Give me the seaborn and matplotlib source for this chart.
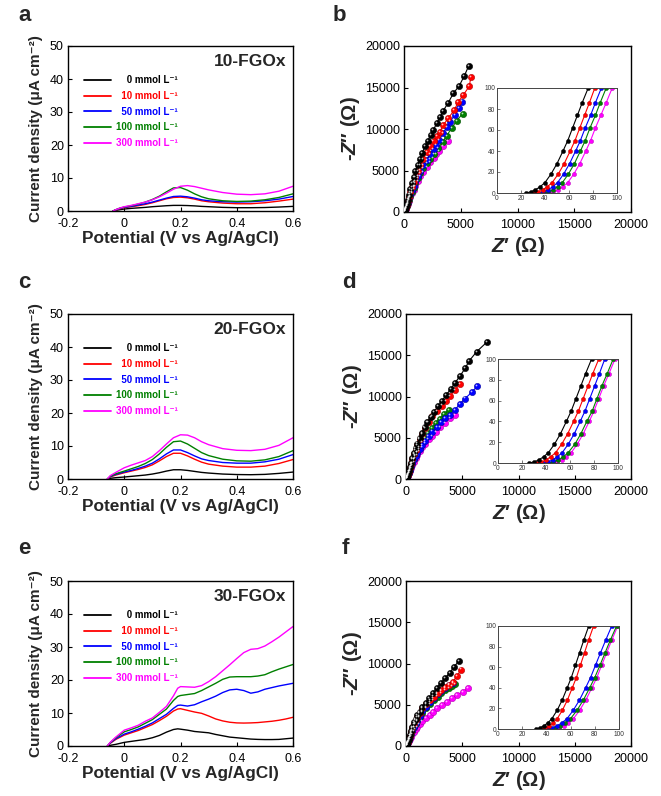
import numpy as np
import pandas as pd
import matplotlib
matplotlib.use('Agg')
import matplotlib.pyplot as plt
import seaborn as sns
from matplotlib.transforms import offset_copy

sns.set_style('ticks')
plt.rcParams['font.family'] = ['Liberation Sans', 'DejaVu Sans']
plt.rcParams['mathtext.fontset'] = 'custom'
plt.rcParams['mathtext.rm'] = 'Liberation Sans'
plt.rcParams['mathtext.it'] = 'Liberation Sans:italic'
plt.rcParams['mathtext.bf'] = 'Liberation Sans:bold'
try:
    plt.rcParams['mathtext.bfit'] = 'Liberation Sans:italic:bold'
except KeyError:
    pass

# ---------------- labels / colours ----------------
FS = '\u2007'
CONC_LABELS = [FS + FS + '0 mmol L⁻¹', FS + '10 mmol L⁻¹', FS + '50 mmol L⁻¹',
               '100 mmol L⁻¹', '300 mmol L⁻¹']
COLORS = ['#000000', '#ff0000', '#0000ff', '#008000', '#ff00ff']
EDGES = ['#000000', '#b00000', '#0000a0', '#005000', '#b000b0']
SAMPLES = ['10-FGOx', '20-FGOx', '30-FGOx']
LSV_XTICKS = [-0.2, 0, 0.2, 0.4, 0.6]
LSV_XTICKLABELS = ['-0.2', '0', '0.2', '0.4', '0.6']
LSV_YTICKS = [0, 10, 20, 30, 40, 50]
NYQ_TICKS = [0, 5000, 10000, 15000, 20000]
INSET_TICKS = [0, 20, 40, 60, 80, 100]

# ---------------- LSV data (panels a, c, e) ----------------
pot_a = [-0.04, -0.03, -0.015, 0, 0.025, 0.05, 0.075, 0.1, 0.125, 0.15, 0.175, 0.2, 0.225,
         0.25, 0.275, 0.3, 0.35, 0.4, 0.45, 0.5, 0.55, 0.6]
j_a_0 = [0, 0.2, 0.4, 0.6, 0.8, 0.95, 1.1, 1.3, 1.45, 1.6, 1.7, 1.7, 1.65, 1.55, 1.4, 1.3, 1.1, 1.0, 1.0, 1.05, 1.2, 1.4]
j_a_10 = [0, 0.3, 0.7, 1.0, 1.3, 1.6, 2.0, 2.5, 3.1, 3.7, 4.1, 4.2, 4.0, 3.6, 3.1, 2.8, 2.4, 2.2, 2.2, 2.5, 3.0, 3.6]
j_a_50 = [0, 0.35, 0.8, 1.1, 1.4, 1.8, 2.2, 2.7, 3.3, 3.9, 4.4, 4.5, 4.3, 3.9, 3.4, 3.1, 2.8, 2.7, 2.8, 3.1, 3.6, 4.4]
j_a_100 = [0, 0.4, 0.9, 1.2, 1.6, 2.1, 2.7, 3.5, 4.5, 5.8, 7.0, 7.1, 6.3, 5.2, 4.3, 3.7, 3.1, 2.9, 3.0, 3.4, 4.1, 5.2]
j_a_300 = [0, 0.4, 0.9, 1.3, 1.7, 2.2, 2.7, 3.4, 4.3, 5.4, 6.6, 7.5, 7.7, 7.4, 6.9, 6.4, 5.6, 5.1, 4.95, 5.2, 6.0, 7.5]

pot_c = [-0.06, -0.05, -0.03, 0, 0.025, 0.05, 0.075, 0.1, 0.125, 0.15, 0.175, 0.2, 0.225,
         0.25, 0.275, 0.3, 0.35, 0.4, 0.45, 0.5, 0.55, 0.6]
j_c_0 = [0, 0.2, 0.4, 0.6, 0.8, 1.0, 1.2, 1.5, 1.9, 2.4, 2.8, 2.8, 2.6, 2.3, 2.0, 1.8, 1.5, 1.35, 1.3, 1.4, 1.7, 2.1]
j_c_10 = [0, 0.6, 1.2, 1.9, 2.4, 2.9, 3.5, 4.3, 5.5, 6.8, 7.8, 7.8, 7.0, 6.0, 5.1, 4.5, 3.9, 3.6, 3.6, 3.9, 4.7, 5.9]
j_c_50 = [0, 0.7, 1.4, 2.1, 2.6, 3.2, 3.9, 4.8, 6.1, 7.6, 8.8, 8.8, 8.0, 7.0, 6.1, 5.6, 5.0, 4.8, 4.8, 5.2, 6.0, 7.4]
j_c_100 = [0, 0.8, 1.6, 2.4, 3.1, 3.8, 4.7, 5.9, 7.6, 9.6, 11.3, 11.5, 10.6, 9.3, 8.0, 7.1, 6.0, 5.5, 5.4, 5.8, 6.8, 8.6]
j_c_300 = [0, 1.0, 2.0, 3.4, 4.2, 4.9, 5.6, 6.8, 8.6, 10.6, 12.5, 13.4, 13.3, 12.5, 11.3, 10.4, 9.2, 8.7, 8.6, 9.0, 10.2, 12.5]

pot_e = [-0.06, -0.05, -0.03, 0, 0.025, 0.05, 0.075, 0.1, 0.125, 0.15, 0.175, 0.19, 0.2, 0.225,
         0.25, 0.275, 0.3, 0.325, 0.35, 0.375, 0.4, 0.425, 0.45, 0.475, 0.5, 0.525, 0.55, 0.575, 0.6]
j_e_0 = [0, 0.2, 0.5, 1.1, 1.4, 1.7, 2.0, 2.5, 3.2, 4.2, 5.0, 5.2, 5.1, 4.8, 4.4, 4.2, 4.0, 3.5, 3.1,
         2.7, 2.5, 2.3, 2.1, 2.0, 1.95, 1.95, 2.0, 2.2, 2.4]
j_e_10 = [0, 0.8, 2.0, 3.3, 4.0, 4.7, 5.6, 6.5, 7.7, 9.0, 10.6, 11.2, 11.3, 10.8, 10.3, 9.9, 9.1, 8.2,
          7.6, 7.2, 7.0, 6.95, 7.0, 7.1, 7.3, 7.5, 7.8, 8.2, 8.7]
j_e_50 = [0, 0.9, 2.2, 3.6, 4.3, 5.1, 6.0, 7.0, 8.3, 9.6, 11.4, 12.3, 12.4, 12.1, 12.5, 13.4, 14.2,
          15.1, 16.2, 17.0, 17.2, 16.8, 16.0, 16.4, 17.2, 17.7, 18.2, 18.6, 19.0]
j_e_100 = [0, 1.0, 2.5, 4.3, 5.0, 5.8, 6.9, 8.0, 9.6, 11.2, 13.8, 15.0, 15.3, 15.6, 15.9, 16.8, 17.9,
           19.0, 20.2, 20.9, 21.0, 21.0, 21.0, 21.2, 21.6, 22.5, 23.3, 24.0, 24.7]
j_e_300 = [0, 1.1, 2.7, 4.8, 5.5, 6.3, 7.5, 8.5, 10.2, 12.0, 15.2, 17.5, 18.0, 17.9, 17.8, 18.3, 19.5,
           21.0, 22.8, 24.6, 26.5, 28.3, 29.3, 29.5, 30.3, 31.6, 33.0, 34.6, 36.2]

# ---------------- Nyquist data (panels b, d, f) ----------------
# high-frequency part (seen in the insets): shared -Z'' levels, Z' per series
inset_zim = [0, 1, 3, 6, 10, 18, 28, 40, 50, 62, 74, 86, 100]

zre_in_b_0 = [24, 28, 32, 36, 40, 45, 50, 55, 59, 63, 67, 71, 76]
zre_in_b_10 = [30, 34, 38, 42, 46, 51, 56, 61, 65, 69, 73, 77, 81.5]
zre_in_b_50 = [34.5, 38.5, 42.5, 46.5, 50.5, 55.5, 60.5, 65.5, 69.5, 73.5, 78, 82, 87]
zre_in_b_100 = [38.5, 42.5, 46.5, 50.5, 54.5, 59.5, 64.5, 69.5, 73.5, 77.5, 82, 86, 91]
zre_in_b_300 = [43, 47, 51, 55, 59, 64, 69, 74, 78, 82, 86.5, 91, 96]

zre_in_d_0 = [26, 30, 34, 38, 42, 47, 52, 57, 61, 65, 69, 73, 78]
zre_in_d_10 = [32, 36, 40, 44, 48, 53, 58, 63, 67, 71, 75, 79, 84]
zre_in_d_50 = [37.5, 41.5, 45.5, 49.5, 53.5, 58.5, 63.5, 68.5, 72.5, 76.5, 80.5, 84.5, 89]
zre_in_d_100 = [42, 46, 50, 54.5, 58.5, 64, 69, 74, 78.5, 82.5, 86.5, 91, 96]
zre_in_d_300 = [45, 49, 53, 57, 61, 66, 71, 76, 80, 84, 88, 92.5, 97.5]

zre_in_f_0 = [31, 34.4, 37.8, 41.2, 44.5, 48.8, 53, 57.2, 60.6, 64, 67.4, 70.8, 75]
zre_in_f_10 = [35.5, 38.9, 42.2, 45.5, 48.9, 53.1, 57.3, 61.4, 64.8, 68.1, 71.5, 74.8, 79]
zre_in_f_50 = [40.5, 44.6, 48.7, 52.8, 57, 62.1, 67.3, 72.4, 76.5, 80.6, 84.7, 88.9, 94]
zre_in_f_100 = [43, 47.2, 51.5, 55.7, 59.9, 65.2, 70.5, 75.8, 80, 84.3, 88.5, 92.7, 98]
zre_in_f_300 = [46, 50.1, 54.2, 58.2, 62.3, 67.4, 72.5, 77.6, 81.7, 85.7, 89.8, 93.9, 99]

# low-frequency part (main plots)
zre_b_0 = [100, 130, 170, 240, 330, 440, 560, 700, 850, 1000, 1200, 1400, 1600, 1850, 2100, 2350, 2590,
           2880, 3170, 3460, 3900, 4350, 4870, 5310, 5700]
zim_b_0 = [170, 320, 600, 1000, 1500, 2100, 2800, 3500, 4200, 4900, 5700, 6400, 7100, 7900, 8600, 9280,
           9880, 10690, 11410, 12210, 13170, 14300, 15220, 16390, 17600]
zre_b_10 = [100, 130, 170, 240, 330, 440, 560, 700, 850, 1000, 1200, 1450, 1700, 2000, 2300, 2600, 2900,
            3170, 3460, 3900, 4430, 4790, 5230, 5750, 5900]
zim_b_10 = [150, 280, 520, 880, 1300, 1800, 2400, 3000, 3600, 4200, 4900, 5700, 6400, 7200, 7900, 8600,
            9200, 9680, 10480, 11290, 12290, 13290, 14100, 15150, 16300]
zre_b_50 = [100, 130, 170, 240, 330, 440, 560, 700, 850, 1000, 1200, 1450, 1700, 2000, 2300, 2600, 2850,
            3110, 3460, 3760, 4050, 4490, 4850, 5150]
zim_b_50 = [140, 260, 480, 800, 1200, 1650, 2150, 2650, 3150, 3700, 4300, 5000, 5650, 6300, 6950, 7600,
            8100, 8700, 9500, 10200, 10900, 11700, 12500, 13300]
zre_b_100 = [100, 130, 170, 240, 330, 440, 560, 700, 850, 1000, 1200, 1450, 1700, 2000, 2300, 2650, 3020,
             3410, 3760, 4200, 4640, 5170]
zim_b_100 = [130, 240, 440, 740, 1100, 1500, 1950, 2450, 2950, 3450, 4050, 4650, 5250, 5850, 6400, 7000,
             7700, 8470, 9200, 10100, 11000, 11850]
zre_b_300 = [100, 130, 170, 240, 330, 440, 560, 700, 850, 1000, 1200, 1450, 1700, 2000, 2300, 2600, 2850,
             3110, 3460, 3850]
zim_b_300 = [120, 220, 400, 680, 1000, 1380, 1800, 2250, 2700, 3150, 3700, 4300, 4850, 5450, 6000, 6550,
             6950, 7300, 7950, 8600]

zre_d_0 = [100, 130, 170, 240, 330, 440, 560, 700, 850, 1000, 1200, 1400, 1650, 1900, 2200, 2520, 2870,
           3170, 3560, 3970, 4360, 4800, 5250, 5630, 6280, 7170]
zim_d_0 = [180, 330, 600, 980, 1400, 1950, 2550, 3150, 3750, 4300, 5000, 5600, 6250, 6850, 7500, 8160,
           8800, 9400, 10180, 10870, 11670, 12480, 13410, 14340, 15430, 16570]
zre_d_10 = [100, 130, 170, 240, 330, 440, 560, 700, 850, 1000, 1200, 1450, 1700, 2000, 2350, 2750, 3170,
            3560, 3910, 4360, 4800]
zim_d_10 = [150, 290, 540, 900, 1330, 1850, 2400, 3000, 3550, 4100, 4800, 5500, 6200, 6900, 7600, 8250,
            8900, 9450, 10060, 10790, 11510]
zre_d_50 = [100, 130, 170, 240, 330, 440, 560, 700, 850, 1000, 1200, 1450, 1700, 2000, 2350, 2750, 3150,
            3500, 3910, 4360, 4800, 5250, 5870, 6340]
zim_d_50 = [140, 260, 470, 780, 1150, 1550, 1950, 2400, 2800, 3200, 3650, 4150, 4650, 5200, 5750, 6350,
            6900, 7350, 7800, 8400, 9100, 9750, 10550, 11270]
zre_d_100 = [100, 130, 170, 240, 330, 440, 560, 700, 850, 1000, 1200, 1450, 1700, 2000, 2300, 2650, 3000,
             3400, 3800]
zim_d_100 = [130, 240, 450, 760, 1120, 1520, 1950, 2420, 2880, 3300, 3850, 4450, 5000, 5600, 6150, 6750,
             7300, 7850, 8350]
zre_d_300 = [100, 130, 170, 240, 330, 440, 560, 700, 850, 1000, 1200, 1450, 1700, 2000, 2330, 2670, 3020,
             3470, 3910, 4360]
zim_d_300 = [120, 220, 400, 670, 980, 1330, 1700, 2100, 2500, 2880, 3350, 3850, 4300, 4800, 5200, 5680,
             6250, 6830, 7350, 7780]

zre_f_0 = [100, 130, 170, 240, 330, 440, 560, 700, 850, 1000, 1200, 1450, 1750, 2070, 2430, 2730, 3090,
           3470, 3910, 4270, 4740]
zim_f_0 = [170, 320, 560, 900, 1350, 1850, 2350, 2850, 3300, 3700, 4150, 4700, 5250, 5800, 6390, 6990,
           7600, 8200, 8890, 9620, 10340]
zre_f_10 = [100, 130, 170, 240, 330, 440, 560, 700, 850, 1000, 1200, 1450, 1750, 2100, 2450, 2800, 3150,
            3500, 3830, 4150, 4530, 4900]
zim_f_10 = [150, 290, 520, 860, 1260, 1700, 2150, 2650, 3100, 3500, 4000, 4550, 5050, 5550, 6000, 6400,
            6800, 7150, 7450, 7800, 8450, 9270]
zre_f_50 = [100, 130, 170, 240, 330, 440, 560, 700, 850, 1000, 1200, 1450, 1750, 2100, 2450, 2800, 3150,
            3500, 3850, 4200]
zim_f_50 = [140, 260, 470, 780, 1130, 1520, 1920, 2350, 2750, 3150, 3650, 4200, 4750, 5300, 5800, 6250,
            6650, 7000, 7350, 7660]
zre_f_100 = [100, 130, 170, 240, 330, 440, 560, 700, 850, 1000, 1200, 1450, 1750, 2100, 2450, 2800, 3150,
             3500, 3850, 4100, 4360]
zim_f_100 = [130, 240, 440, 740, 1080, 1450, 1840, 2250, 2650, 3050, 3550, 4050, 4600, 5100, 5550, 6000,
             6400, 6750, 7050, 7280, 7500]
zre_f_300 = [100, 130, 170, 240, 330, 440, 560, 700, 850, 1000, 1200, 1450, 1750, 2100, 2430, 2790, 3170,
             3620, 4060, 4560, 5040, 5540]
zim_f_300 = [110, 210, 360, 590, 860, 1150, 1450, 1750, 2050, 2300, 2650, 3000, 3400, 3800, 4150, 4550,
             4950, 5370, 5780, 6180, 6590, 6990]

LSV_PANELS = [
    (pot_a, [j_a_0, j_a_10, j_a_50, j_a_100, j_a_300]),
    (pot_c, [j_c_0, j_c_10, j_c_50, j_c_100, j_c_300]),
    (pot_e, [j_e_0, j_e_10, j_e_50, j_e_100, j_e_300]),
]
NYQ_PANELS = [
    ([zre_in_b_0, zre_in_b_10, zre_in_b_50, zre_in_b_100, zre_in_b_300],
     [zre_b_0, zre_b_10, zre_b_50, zre_b_100, zre_b_300],
     [zim_b_0, zim_b_10, zim_b_50, zim_b_100, zim_b_300]),
    ([zre_in_d_0, zre_in_d_10, zre_in_d_50, zre_in_d_100, zre_in_d_300],
     [zre_d_0, zre_d_10, zre_d_50, zre_d_100, zre_d_300],
     [zim_d_0, zim_d_10, zim_d_50, zim_d_100, zim_d_300]),
    ([zre_in_f_0, zre_in_f_10, zre_in_f_50, zre_in_f_100, zre_in_f_300],
     [zre_f_0, zre_f_10, zre_f_50, zre_f_100, zre_f_300],
     [zim_f_0, zim_f_10, zim_f_50, zim_f_100, zim_f_300]),
]

# ---------------- layout (pixels) ----------------
W, H = 661, 796
fig = plt.figure(figsize=(W / 100, H / 100), dpi=100)


def rect(l, t, r, b):
    return [l / W, 1 - b / H, (r - l) / W, (b - t) / H]


LSV_RECTS = [rect(68, 46, 293, 211), rect(68, 314, 293, 479), rect(68, 581, 293, 746)]
NYQ_RECTS = [rect(404, 46, 631, 212), rect(406, 314, 631, 479), rect(406, 581, 631, 746)]
INSET_RECTS = [rect(497, 88, 617, 193), rect(498, 359, 618, 463), rect(498, 626, 619, 729)]
LETTERS = [('a', 18, 21), ('b', 333, 21), ('c', 18, 288), ('d', 342, 288), ('e', 18, 554), ('f', 342, 554)]


def style_main(ax):
    for s in ax.spines.values():
        s.set_linewidth(1.0)
        s.set_color('black')
        s.set_visible(True)
    ax.tick_params(direction='in', length=3, width=0.8, labelsize=9, pad=3, colors='black')
    ax.tick_params(axis='x', pad=5)


for (pot, curves), r, tag in zip(LSV_PANELS, LSV_RECTS, SAMPLES):
    ax = fig.add_axes(r)
    for y, lab, col in zip(curves, CONC_LABELS, COLORS):
        sns.lineplot(x=pot, y=y, ax=ax, color=col, lw=1.0, label=lab, sort=False, estimator=None)
    ax.set_xlim(-0.2, 0.6)
    ax.set_ylim(0, 50)
    ax.set_xticks(LSV_XTICKS)
    ax.set_xticklabels(LSV_XTICKLABELS)
    ax.set_yticks(LSV_YTICKS)
    style_main(ax)
    ax.set_xlabel('Potential (V vs Ag/AgCl)', fontsize=12.4, fontweight='bold', labelpad=1)
    ax.set_ylabel('Current density (μA cm⁻²)', fontsize=11, fontweight='bold', labelpad=5)
    ax.text(0.97, 0.905, tag, transform=ax.transAxes, ha='right', va='center',
            fontsize=12.5, fontweight='bold')
    leg = ax.legend(loc='upper left', bbox_to_anchor=(0.07, 0.822), frameon=False,
                    prop=dict(weight='bold', size=7), labelcolor='linecolor',
                    handlelength=2.8, handletextpad=0.5, labelspacing=0.58,
                    borderaxespad=0, borderpad=0)
    for ln in leg.get_lines():
        ln.set_linewidth(1.3)

for (inset_re, main_re, main_im), r, ri in zip(NYQ_PANELS, NYQ_RECTS, INSET_RECTS):
    ax = fig.add_axes(r)
    axi = fig.add_axes(ri)
    hl_main = offset_copy(ax.transData, fig=fig, x=-0.8, y=0.8, units='points')
    order = [4, 3, 2, 1, 0]
    for k in order:
        zr = list(inset_re[k]) + list(main_re[k])
        zi = list(inset_zim) + list(main_im[k])
        sns.lineplot(x=zr, y=zi, ax=ax, color=COLORS[k], lw=0.8, sort=False, estimator=None,
                     marker='o', markersize=4.5, markeredgecolor=EDGES[k], markeredgewidth=0.4,
                     legend=False)
        ax.scatter(main_re[k], main_im[k], s=1.6, color='white', alpha=0.75, lw=0,
                   transform=hl_main, zorder=5)
        sns.lineplot(x=zr, y=zi, ax=axi, color=COLORS[k], lw=0.8, sort=False, estimator=None,
                     marker='o', markersize=3.0, markeredgecolor=EDGES[k], markeredgewidth=0.3,
                     legend=False)
    ax.set_xlim(0, 20000)
    ax.set_ylim(0, 20000)
    ax.set_xticks(NYQ_TICKS)
    ax.set_yticks(NYQ_TICKS)
    style_main(ax)
    ax.set_xlabel(r"$\mathbfit{Z}$′ (Ω)", fontsize=14.5, fontweight='bold', labelpad=3)
    ax.set_ylabel(r"-$\mathbfit{Z}$″ (Ω)", fontsize=14.5, fontweight='bold', labelpad=2)

    axi.set_xlim(0, 100)
    axi.set_ylim(0, 100)
    axi.set_xticks(INSET_TICKS)
    axi.set_yticks(INSET_TICKS)
    axi.set_xlabel('')
    axi.set_ylabel('')
    for s in axi.spines.values():
        s.set_linewidth(0.7)
        s.set_color('#444444')
        s.set_visible(True)
    axi.tick_params(direction='in', length=2, width=0.5, labelsize=4.8, pad=1.5,
                    colors='#444444', labelcolor='#333333')

for letter, x, y in LETTERS:
    fig.text(x / W, 1 - y / H, letter, fontsize=16, fontweight='bold', ha='left', va='baseline')

fig.savefig('out.png', dpi=100)
